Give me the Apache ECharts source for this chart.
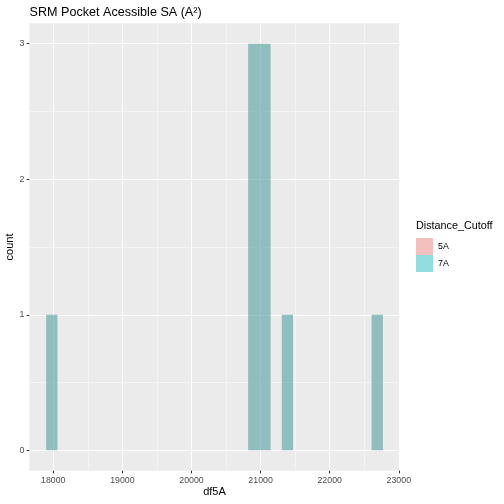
<!DOCTYPE html>
<html>
<head>
<meta charset="utf-8">
<script src="https://cdn.jsdelivr.net/npm/echarts@6/dist/echarts.min.js"></script>
<style>
  html, body { margin: 0; padding: 0; background: #fff; }
  #chart { width: 504px; height: 504px; }
</style>
</head>
<body>
<div id="chart"></div>
<script>
// histogram bins (left edges), shared bin width
const binWidth = 162.4;
const binStarts = [17897, 20820, 20982, 21307, 22607];
const counts5A = [1, 3, 3, 1, 1];
const counts7A = [1, 3, 3, 1, 1];

const xTicks = [18000, 19000, 20000, 21000, 22000, 23000];
const xMinor = [18500, 19500, 20500, 21500, 22500];
const yTicks = [0, 1, 2, 3];
const yMinor = [0.5, 1.5, 2.5];

const FONT = 'Liberation Sans, Arial, sans-serif';
const xMin = 17653, xMax = 23013;
const yMin = -0.15, yMax = 3.15;

function toRows(counts) {
  return binStarts.map((s, i) => [s, s + binWidth, counts[i]]);
}

function renderBin(params, api) {
  const topLeft = api.coord([api.value(0), api.value(2)]);
  const bottomRight = api.coord([api.value(1), 0]);
  return {
    type: 'rect',
    shape: {
      x: topLeft[0],
      y: topLeft[1],
      width: bottomRight[0] - topLeft[0],
      height: bottomRight[1] - topLeft[1]
    },
    style: { fill: api.visual('color'), opacity: 0.4 }
  };
}

const chart = echarts.init(document.getElementById('chart'), null, { renderer: 'canvas' });

const plain = v => String(v);

const mainAxisCommon = {
  axisLine: { show: false, onZero: false },
  axisTick: { show: true, length: 2.7, lineStyle: { color: '#333333', width: 1.07 } },
  axisLabel: { color: '#4D4D4D', fontSize: 8.8, fontFamily: FONT, formatter: plain },
  splitLine: { show: true, lineStyle: { color: '#FFFFFF', width: 1.07 } }
};

const minorAxisCommon = {
  axisLine: { show: false, onZero: false },
  splitLine: { show: true, lineStyle: { color: '#FFFFFF', width: 0.53 } }
};

chart.setOption({
  backgroundColor: '#FFFFFF',
  animation: false,
  title: {
    text: 'SRM Pocket Acessible SA (A²)',
    left: 29.5, top: 6.5, padding: 0,
    textStyle: { color: '#000000', fontSize: 12.6, fontWeight: 'normal', fontFamily: FONT }
  },
  grid: {
    left: 29.3, right: 104.3, top: 23.3, bottom: 33.3,
    containLabel: false, outerBoundsMode: 'none',
    show: true, backgroundColor: '#EBEBEB', borderWidth: 0
  },
  legend: {
    orient: 'vertical',
    left: 416, top: 238,
    padding: 0,
    itemWidth: 17, itemHeight: 17, itemGap: 0,
    icon: 'rect',
    textStyle: { color: '#000000', fontSize: 8.8, fontFamily: FONT },
    data: [
      { name: '5A', itemStyle: { opacity: 0.4 } },
      { name: '7A', itemStyle: { opacity: 0.4 } }
    ]
  },
  graphic: [
    {
      type: 'rect', z: -1, left: 416, top: 238,
      shape: { width: 17, height: 34 },
      style: { fill: '#F2F2F2' }
    },
    {
      type: 'text', left: 416, top: 221,
      style: { text: 'Distance_Cutoff', fill: '#000000', fontSize: 10.8, fontFamily: FONT }
    }
  ],
  xAxis: [
    Object.assign({}, mainAxisCommon, {
      type: 'value', position: 'bottom',
      min: xMin, max: xMax,
      name: 'df5A', nameLocation: 'middle', nameGap: 16, nameMoveOverlap: false,
      nameTextStyle: { color: '#000000', fontSize: 11, fontFamily: FONT },
      axisTick: Object.assign({}, mainAxisCommon.axisTick, { customValues: xTicks }),
      axisLabel: Object.assign({}, mainAxisCommon.axisLabel, { customValues: xTicks, margin: 5 })
    }),
    Object.assign({}, minorAxisCommon, {
      type: 'value', position: 'top',
      min: xMin, max: xMax,
      axisTick: { show: false, customValues: xMinor },
      axisLabel: { show: false, customValues: xMinor }
    })
  ],
  yAxis: [
    Object.assign({}, mainAxisCommon, {
      type: 'value', position: 'left',
      min: yMin, max: yMax,
      name: 'count', nameLocation: 'middle', nameGap: 14, nameRotate: 90, nameMoveOverlap: false,
      nameTextStyle: { color: '#000000', fontSize: 11, fontFamily: FONT },
      axisTick: Object.assign({}, mainAxisCommon.axisTick, { customValues: yTicks }),
      axisLabel: Object.assign({}, mainAxisCommon.axisLabel, { customValues: yTicks, margin: 5 })
    }),
    Object.assign({}, minorAxisCommon, {
      type: 'value', position: 'right',
      min: yMin, max: yMax,
      axisTick: { show: false, customValues: yMinor },
      axisLabel: { show: false, customValues: yMinor }
    })
  ],
  series: [
    {
      name: '5A', type: 'custom', color: '#F8766D',
      xAxisIndex: 0, yAxisIndex: 0,
      renderItem: renderBin,
      encode: { x: [0, 1], y: 2 },
      data: toRows(counts5A)
    },
    {
      name: '7A', type: 'custom', color: '#00BFC4',
      xAxisIndex: 0, yAxisIndex: 0,
      renderItem: renderBin,
      encode: { x: [0, 1], y: 2 },
      data: toRows(counts7A)
    }
  ]
});
</script>
</body>
</html>
